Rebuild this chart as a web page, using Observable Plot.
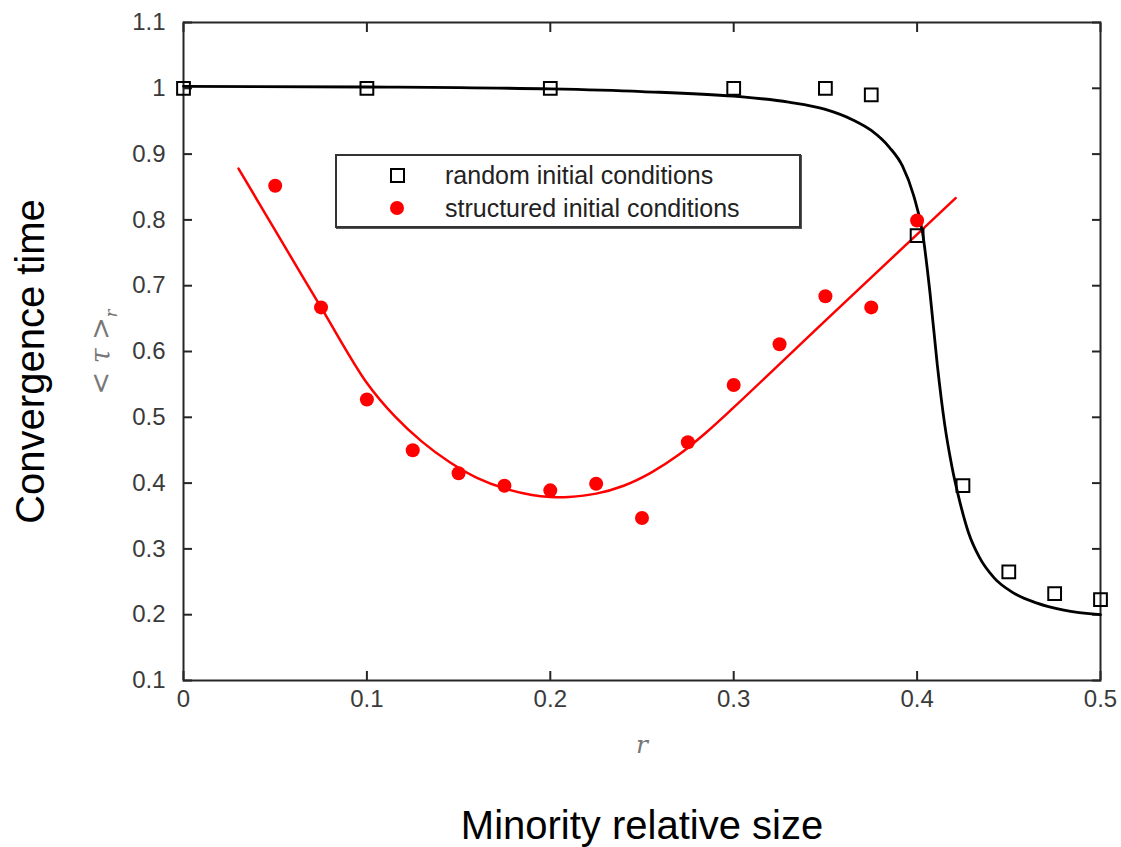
<!DOCTYPE html>
<html>
<head>
<meta charset="utf-8">
<script src="https://cdn.jsdelivr.net/npm/d3@7"></script>
<script src="https://cdn.jsdelivr.net/npm/@observablehq/plot@0.6"></script>
<style>
  html, body { margin: 0; padding: 0; background: #fff; }
  #wrap { position: relative; width: 1121px; height: 847px; overflow: hidden; }
  #legend { position: absolute; left: 335px; top: 154px; width: 462px; height: 70px;
            border: 2px solid #333; box-shadow: 1px 1px 0 #555; background: #fff;
            font-family: "Liberation Sans", Arial, sans-serif; font-size: 25px; color: #222; }
  #legend .row { position: absolute; left: 0; height: 30px; line-height: 30px; white-space: nowrap; }
  #legend .txt { position: absolute; left: 108px; top: 0; }
  #legend .sq { position: absolute; left: 53px; top: 8px; width: 11px; height: 11px; border: 2.2px solid #000; }
  #legend .ci { position: absolute; left: 53px; top: 8px; width: 14px; height: 14px; border-radius: 50%; background: #ff0000; }
  #tau { position: absolute; left: 103px; top: 352px; transform: translate(-50%, -50%) rotate(-90deg);
         font-family: "DejaVu Serif", serif; font-size: 27px; color: #777; white-space: nowrap; }
  #tau sub { font-size: 16px; }
</style>
</head>
<body>
<div id="wrap"></div>
<script>
// ---- data ----
const rRandom   = [0, 0.1, 0.2, 0.3, 0.35, 0.375, 0.4, 0.425, 0.45, 0.475, 0.5];
const tauRandom = [1.0, 1.0, 1.0, 1.0, 1.0, 0.990, 0.776, 0.396, 0.265, 0.232, 0.223];

const rStructured   = [0.05, 0.075, 0.1, 0.125, 0.15, 0.175, 0.2, 0.225, 0.25, 0.275, 0.3, 0.325, 0.35, 0.375, 0.4];
const tauStructured = [0.852, 0.667, 0.527, 0.450, 0.415, 0.396, 0.389, 0.399, 0.347, 0.462, 0.549, 0.611, 0.684, 0.667, 0.799];

// fitted curve (random initial conditions)
const rFitRandom   = [0, 0.1, 0.2, 0.25, 0.3, 0.33, 0.35, 0.365, 0.375, 0.385, 0.392, 0.398, 0.403, 0.407, 0.411, 0.415, 0.419, 0.423, 0.428, 0.434, 0.442, 0.452, 0.465, 0.48, 0.5];
const tauFitRandom = [1.003, 1.002, 0.999, 0.995, 0.988, 0.979, 0.968, 0.952, 0.936, 0.910, 0.882, 0.838, 0.780, 0.690, 0.580, 0.490, 0.425, 0.375, 0.325, 0.287, 0.256, 0.234, 0.218, 0.207, 0.200];

// fitted curve (structured initial conditions)
const rFitStructured   = [0.03, 0.05, 0.075, 0.1, 0.115, 0.13, 0.145, 0.16, 0.175, 0.19, 0.2, 0.21, 0.225, 0.24, 0.255, 0.27, 0.285, 0.3, 0.35, 0.4, 0.421];
const tauFitStructured = [0.878, 0.784, 0.667, 0.552, 0.502, 0.463, 0.432, 0.408, 0.392, 0.382, 0.379, 0.379, 0.384, 0.396, 0.416, 0.443, 0.477, 0.515, 0.647, 0.778, 0.833];

const xTicks = [0, 0.1, 0.2, 0.3, 0.4, 0.5];
const xTickLabels = ["0", "0.1", "0.2", "0.3", "0.4", "0.5"];
const yTicks = [0.1, 0.2, 0.3, 0.4, 0.5, 0.6, 0.7, 0.8, 0.9, 1.0, 1.1];
const yTickLabels = ["0.1", "0.2", "0.3", "0.4", "0.5", "0.6", "0.7", "0.8", "0.9", "1", "1.1"];

const xLabelMath = "r";
const xLabelOuter = "Minority relative size";
const yLabelOuter = "Convergence time";
const legendLabels = ["random initial conditions", "structured initial conditions"];

// ---- tables ----
const randomPts = rRandom.map((r, i) => ({r, tau: tauRandom[i]}));
const structPts = rStructured.map((r, i) => ({r, tau: tauStructured[i]}));
const fitR = rFitRandom.map((r, i) => ({r, tau: tauFitRandom[i]}));
const fitS = rFitStructured.map((r, i) => ({r, tau: tauFitStructured[i]}));

const tickText = "#3a3a3a";
const frameCol = "#262626";
const TS = 9; // inward tick length

const chart = Plot.plot({
  width: 1121,
  height: 847,
  marginLeft: 183,
  marginRight: 21,
  marginTop: 22,
  marginBottom: 167,
  x: {domain: [0, 0.5]},
  y: {domain: [0.1, 1.1]},
  style: {fontFamily: "'Liberation Sans', Arial, sans-serif", background: "white"},
  marks: [
    // tick labels
    Plot.axisX(xTicks, {anchor: "bottom", tickSize: 0, tickPadding: 9, fontSize: 24,
      tickFormat: d => xTickLabels[xTicks.indexOf(d)], fill: tickText, label: null}),
    Plot.axisY(yTicks, {anchor: "left", tickSize: 0, tickPadding: 18, fontSize: 24,
      tickFormat: d => yTickLabels[yTicks.indexOf(d)], fill: tickText, label: null}),
    // inward ticks on all four sides
    Plot.axisX(xTicks, {anchor: "bottom", tickSize: TS, dy: -TS, tickFormat: () => "", stroke: frameCol, strokeWidth: 2, label: null}),
    Plot.axisX(xTicks, {anchor: "top", tickSize: TS, dy: TS, tickFormat: () => "", stroke: frameCol, strokeWidth: 2, label: null}),
    Plot.axisY(yTicks, {anchor: "left", tickSize: TS, dx: TS, tickFormat: () => "", stroke: frameCol, strokeWidth: 2, label: null}),
    Plot.axisY(yTicks, {anchor: "right", tickSize: TS, dx: -TS, tickFormat: () => "", stroke: frameCol, strokeWidth: 2, label: null}),
    Plot.frame({stroke: frameCol, strokeWidth: 2}),
    Plot.line(fitS, {x: "r", y: "tau", stroke: "#ff0000", strokeWidth: 2.5, curve: "catmull-rom"}),
    Plot.line(fitR, {x: "r", y: "tau", stroke: "#000", strokeWidth: 2.8, curve: "monotone-x"}),
    Plot.dot(structPts, {x: "r", y: "tau", r: 7, fill: "#ff0000", stroke: "none"}),
    Plot.dot(randomPts, {x: "r", y: "tau", symbol: "square", r: 7.2, fill: "none", stroke: "#000", strokeWidth: 2}),
    Plot.text([xLabelMath], {text: d => d, frameAnchor: "bottom", dy: 64, fontFamily: "'DejaVu Serif', serif",
      fontStyle: "italic", fontSize: 25, fill: "#777", lineAnchor: "middle"}),
    Plot.text([xLabelOuter], {text: d => d, frameAnchor: "bottom", dy: 146, fontSize: 40, fill: "#000",
      textAnchor: "middle", lineAnchor: "middle"}),
    Plot.text([yLabelOuter], {text: d => d, frameAnchor: "left", dx: -152, dy: 10, rotate: -90, fontSize: 40, fill: "#000",
      textAnchor: "middle", lineAnchor: "middle"})
  ]
});

const wrap = document.getElementById("wrap");
wrap.appendChild(chart);

// in-plot legend
const legend = document.createElement("div");
legend.id = "legend";
legend.innerHTML =
  `<div class="row" style="top:4px"><div class="sq"></div><div class="txt">${legendLabels[0]}</div></div>` +
  `<div class="row" style="top:37px"><div class="ci"></div><div class="txt">${legendLabels[1]}</div></div>`;
wrap.appendChild(legend);

const tau = document.createElement("div");
tau.id = "tau";
tau.innerHTML = "&lt; <i>τ</i> &gt;<sub><i>r</i></sub>";
wrap.appendChild(tau);
</script>
</body>
</html>
